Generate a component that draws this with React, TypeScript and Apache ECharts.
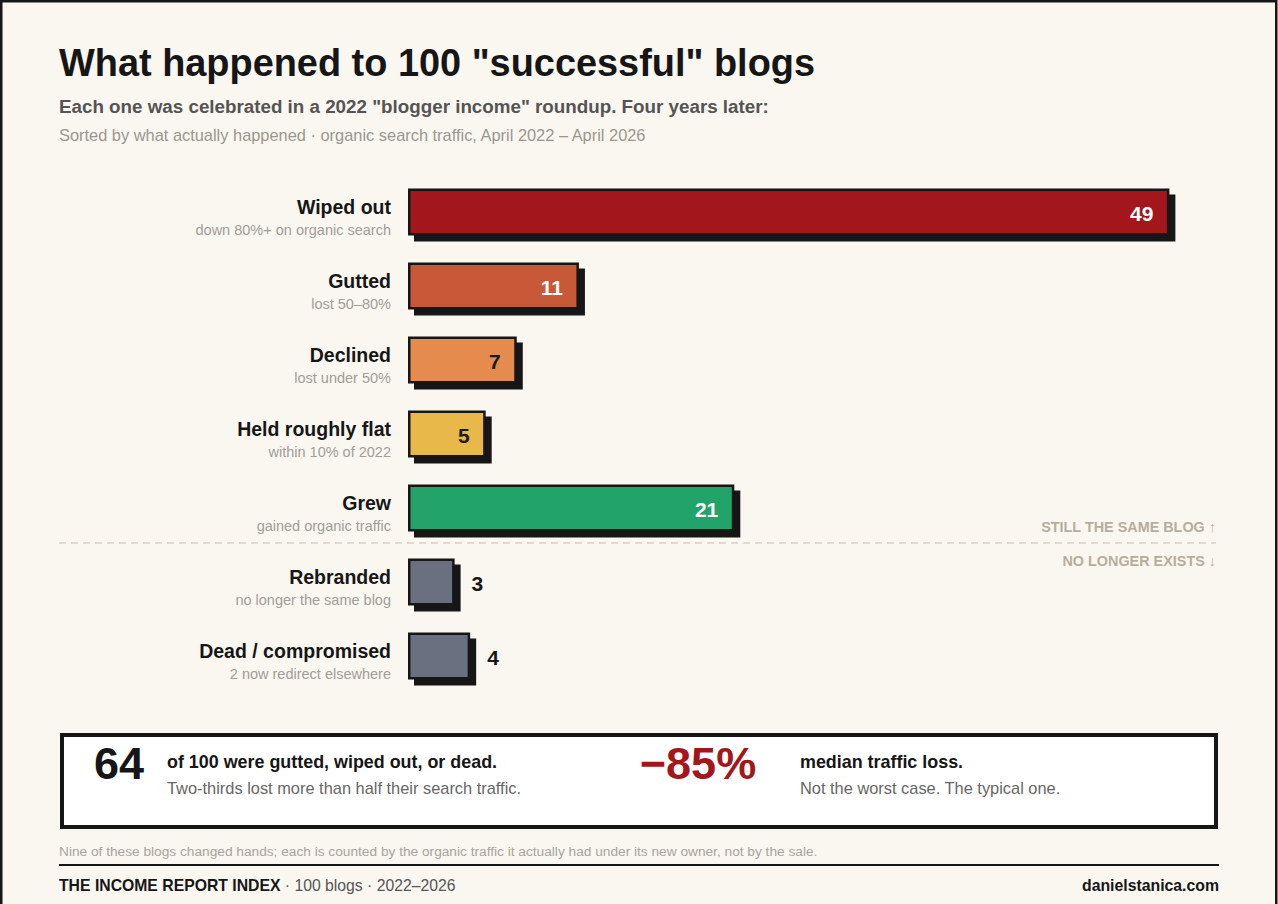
import React, { useEffect, useRef } from "react";
import * as echarts from "echarts";

const categories = ["Wiped out", "Gutted", "Declined", "Held roughly flat", "Grew", "Rebranded", "Dead / compromised"];
const descriptions = [
  "down 80%+ on organic search",
  "lost 50–80%",
  "lost under 50%",
  "within 10% of 2022",
  "gained organic traffic",
  "no longer the same blog",
  "2 now redirect elsewhere",
];
const counts = [49, 11, 7, 5, 21, 3, 4];
const barColors = ["#a3161b", "#c75838", "#e58b4e", "#e8b84a", "#21a36a", "#6b7080", "#6b7080"];
const valueLabelColors = ["#ffffff", "#ffffff", "#1a1a1a", "#1a1a1a", "#ffffff", "", ""];
const dividerAfterIndex = 4;
const dividerAbove = "STILL THE SAME BLOG ↑";
const dividerBelow = "NO LONGER EXISTS ↓";

const titleText = 'What happened to 100 "successful" blogs';
const subtitleText = 'Each one was celebrated in a 2022 "blogger income" roundup. Four years later:';
const noteText = "Sorted by what actually happened · organic search traffic, April 2022 – April 2026";
const stat1Value = "64";
const stat1Head = "of 100 were gutted, wiped out, or dead.";
const stat1Body = "Two-thirds lost more than half their search traffic.";
const stat2Value = "−85%";
const stat2Head = "median traffic loss.";
const stat2Body = "Not the worst case. The typical one.";
const footnoteText =
  "Nine of these blogs changed hands; each is counted by the organic traffic it actually had under its new owner, not by the sale.";
const footerBrand = "THE INCOME REPORT INDEX";
const footerMeta = " · 100 blogs · 2022–2026";
const footerSite = "danielstanica.com";

const FONT = '"Liberation Sans", Arial, Helvetica, sans-serif';
const INK = "#161616";
const BG = "#faf7f0";

export default function App() {
  const ref = useRef<HTMLDivElement>(null);

  useEffect(() => {
    if (!ref.current) return;
    const chart = echarts.init(ref.current, undefined, { renderer: "svg" });

    const renderItem = (params: any, api: any) => {
      const i = params.dataIndex;
      const v = api.value(0);
      const start = api.coord([0, i]);
      const end = api.coord([v, i]);
      const band = api.size([0, 1])[1];
      const h = 47;
      const x0 = start[0];
      const cy = start[1];
      const y0 = cy - h / 2;
      const w = end[0] - start[0];
      const children: any[] = [
        { type: "rect", shape: { x: x0 + 6, y: y0 + 6, width: w, height: h }, style: { fill: INK } },
        {
          type: "rect",
          shape: { x: x0 + 1.25, y: y0 + 1.25, width: w - 2.5, height: h - 2.5 },
          style: { fill: barColors[i], stroke: INK, lineWidth: 2.5 },
        },
        {
          type: "text",
          style: {
            text: categories[i],
            x: x0 - 17,
            y: cy - 5,
            align: "right",
            verticalAlign: "middle",
            font: `bold 19.5px ${FONT}`,
            fill: INK,
          },
        },
        {
          type: "text",
          style: {
            text: descriptions[i],
            x: x0 - 17,
            y: cy + 18,
            align: "right",
            verticalAlign: "middle",
            font: `14.5px ${FONT}`,
            fill: "#a19d97",
          },
        },
      ];
      const lc = valueLabelColors[i];
      if (lc) {
        children.push({
          type: "text",
          style: {
            text: String(v),
            x: end[0] - 16,
            y: cy + 1,
            align: "right",
            verticalAlign: "middle",
            font: `bold 21px ${FONT}`,
            fill: lc,
          },
        });
      } else {
        children.push({
          type: "text",
          style: {
            text: String(v),
            x: end[0] + 17,
            y: cy + 1,
            align: "left",
            verticalAlign: "middle",
            font: `bold 21px ${FONT}`,
            fill: INK,
          },
        });
      }
      if (i === dividerAfterIndex) {
        const dy = cy + band / 2 - 2;
        children.push(
          {
            type: "line",
            shape: { x1: 59, y1: dy, x2: 1216, y2: dy },
            style: { stroke: "#d9d2c4", lineWidth: 1.5, lineDash: [7, 5] },
          },
          {
            type: "text",
            style: {
              text: dividerAbove,
              x: 1216,
              y: dy - 16,
              align: "right",
              verticalAlign: "middle",
              font: `bold 14.4px ${FONT}`,
              fill: "#b7ad9c",
            },
          },
          {
            type: "text",
            style: {
              text: dividerBelow,
              x: 1216,
              y: dy + 18,
              align: "right",
              verticalAlign: "middle",
              font: `bold 14.4px ${FONT}`,
              fill: "#b7ad9c",
            },
          }
        );
      }
      return { type: "group", children };
    };

    const txt = (text: string, x: number, y: number, font: string, fill: string, align = "left") => ({
      type: "text",
      style: { text, x, y, font, fill, align, verticalAlign: "middle" },
    });

    chart.setOption({
      animation: false,
      backgroundColor: BG,
      grid: { left: 408, top: 175, width: 808, height: 518, containLabel: false },
      xAxis: {
        type: "value",
        min: 0,
        max: 52,
        show: false,
      },
      yAxis: {
        type: "category",
        data: categories,
        inverse: true,
        show: false,
      },
      series: [
        {
          type: "custom",
          renderItem,
          encode: { x: 0, y: 1 },
          data: counts.map((v, i) => [v, categories[i]]),
        },
      ],
      graphic: [
        {
          type: "rect",
          shape: { x: 1.25, y: 1.25, width: 1275, height: 920 },
          style: { fill: "none", stroke: INK, lineWidth: 2.5 },
          silent: true,
        },
        txt(titleText, 59, 63, `bold 37.9px ${FONT}`, INK),
        txt(subtitleText, 59, 106, `bold 18.8px ${FONT}`, "#545454"),
        txt(noteText, 59, 135, `16.4px ${FONT}`, "#9a968f"),
        {
          type: "rect",
          shape: { x: 62, y: 735, width: 1154, height: 92 },
          style: { fill: "#ffffff", stroke: INK, lineWidth: 4 },
        },
        txt(stat1Value, 119, 763, `bold 45px ${FONT}`, INK, "center"),
        txt(stat1Head, 167, 762, `bold 17.9px ${FONT}`, INK),
        txt(stat1Body, 167, 788, `16.4px ${FONT}`, "#666666"),
        txt(stat2Value, 698, 763, `bold 45px ${FONT}`, "#a3161b", "center"),
        txt(stat2Head, 800, 762, `bold 17.9px ${FONT}`, INK),
        txt(stat2Body, 800, 788, `16.4px ${FONT}`, "#666666"),
        txt(footnoteText, 59, 851, `13.7px ${FONT}`, "#a8a49d"),
        {
          type: "line",
          shape: { x1: 59, y1: 865, x2: 1219, y2: 865 },
          style: { stroke: INK, lineWidth: 2 },
        },
        {
          type: "text",
          style: {
            x: 59,
            y: 885,
            verticalAlign: "middle",
            text: `{a|${footerBrand}}{b|${footerMeta}}`,
            rich: {
              a: { font: `bold 15.75px ${FONT}`, fill: INK },
              b: { font: `15.75px ${FONT}`, fill: "#555555" },
            },
          },
        },
        txt(footerSite, 1219, 885, `bold 15.8px ${FONT}`, INK, "right"),
      ],
    });

    return () => chart.dispose();
  }, []);

  return (
    <div style={{ position: "fixed", left: 0, top: 0, width: 1278, height: 904, background: BG }}>
      <div ref={ref} style={{ width: 1278, height: 904 }} />
    </div>
  );
}
